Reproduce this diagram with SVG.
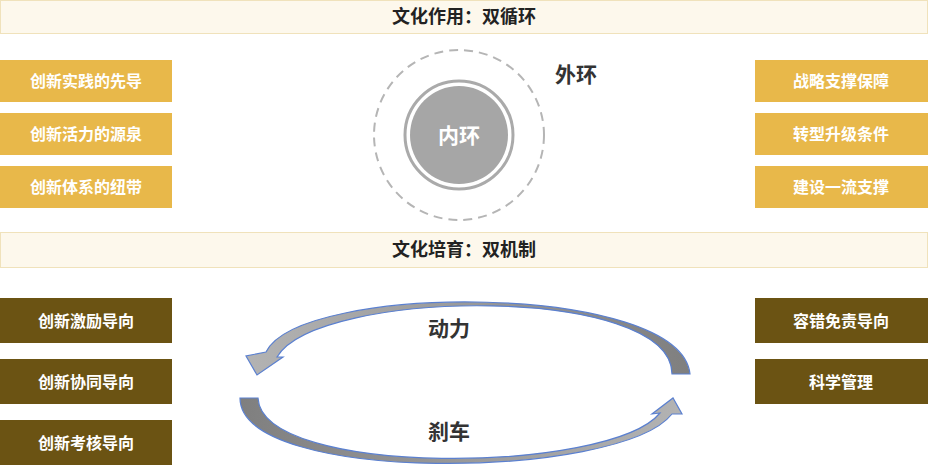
<svg xmlns="http://www.w3.org/2000/svg" width="928" height="465" viewBox="0 0 928 465">
<style>
text{font-family:"Noto Sans CJK SC",sans-serif;font-weight:bold;text-anchor:middle}
.band{fill:#fdf8ec;stroke:#f0e2bb;stroke-width:1}
.y{fill:#e8b84a}
.b{fill:#6b5313}
.bt{fill:#fff;font-size:16px}
.h{fill:#222;font-size:18px}
.l{fill:#333;font-size:21px}
.arc{stroke:#5b80d0;stroke-width:1.2}
</style>
<defs>
<linearGradient id="g1" x1="0" x2="1" y1="0" y2="0"><stop offset="0" stop-color="#b3b3b3"/><stop offset="1" stop-color="#7f7f7f"/></linearGradient>
<linearGradient id="g2" x1="0" x2="1" y1="0" y2="0"><stop offset="0" stop-color="#7f7f7f"/><stop offset="1" stop-color="#b3b3b3"/></linearGradient>
</defs>
<g id="band1"><rect class="band" x="0.5" y="0.5" width="927" height="33"/><text class="h" x="464" y="23">文化作用：双循环</text></g>
<g id="band2"><rect class="band" x="0.5" y="232.5" width="927" height="35"/><text class="h" x="464" y="256">文化培育：双机制</text></g>
<g id="l1"><rect class="y" x="0" y="60" width="172" height="42"/><text class="bt" x="86" y="87">创新实践的先导</text></g>
<g id="l2"><rect class="y" x="0" y="113" width="172" height="42"/><text class="bt" x="86" y="140">创新活力的源泉</text></g>
<g id="l3"><rect class="y" x="0" y="166" width="172" height="42"/><text class="bt" x="86" y="193">创新体系的纽带</text></g>
<g id="r1"><rect class="y" x="755" y="60" width="173" height="42"/><text class="bt" x="841" y="87">战略支撑保障</text></g>
<g id="r2"><rect class="y" x="755" y="113" width="173" height="42"/><text class="bt" x="841" y="140">转型升级条件</text></g>
<g id="r3"><rect class="y" x="755" y="166" width="173" height="42"/><text class="bt" x="841" y="193">建设一流支撑</text></g>
<g id="bl1"><rect class="b" x="0" y="298" width="172" height="45"/><text class="bt" x="86" y="327">创新激励导向</text></g>
<g id="bl2"><rect class="b" x="0" y="359" width="172" height="45"/><text class="bt" x="86" y="388">创新协同导向</text></g>
<g id="bl3"><rect class="b" x="0" y="420" width="172" height="45"/><text class="bt" x="86" y="449">创新考核导向</text></g>
<g id="br1"><rect class="b" x="755" y="298" width="173" height="45"/><text class="bt" x="841" y="327">容错免责导向</text></g>
<g id="br2"><rect class="b" x="755" y="359" width="173" height="45"/><text class="bt" x="841" y="388">科学管理</text></g>
<g id="rings">
<circle cx="459" cy="135" r="85" fill="none" stroke="#b5b5b5" stroke-width="2" stroke-dasharray="9 6"/>
<circle cx="459" cy="135" r="54" fill="none" stroke="#aaa" stroke-width="3"/>
<circle cx="459" cy="135" r="49" fill="#a6a6a6"/>
<text x="459" y="143" fill="#fff" font-size="21">内环</text>
<text class="l" x="576" y="82">外环</text>
</g>
<g id="connectors">
<path class="arc" fill="url(#g1)" d="M690,374 C680,282 300,282 266,352 L246,356 L257,375 L283,357 L277,357 C318,288 672,284 672,374 Z"/>
<path class="arc" fill="url(#g2)" d="M240,398 C240,485 620,480 672,414 L682,414 L673,398 L652,414 L660,413 C610,474 262,478 258,398 Z"/>
<text class="l" x="449" y="336">动力</text>
<text class="l" x="449" y="439">刹车</text>
</g>
</svg>
